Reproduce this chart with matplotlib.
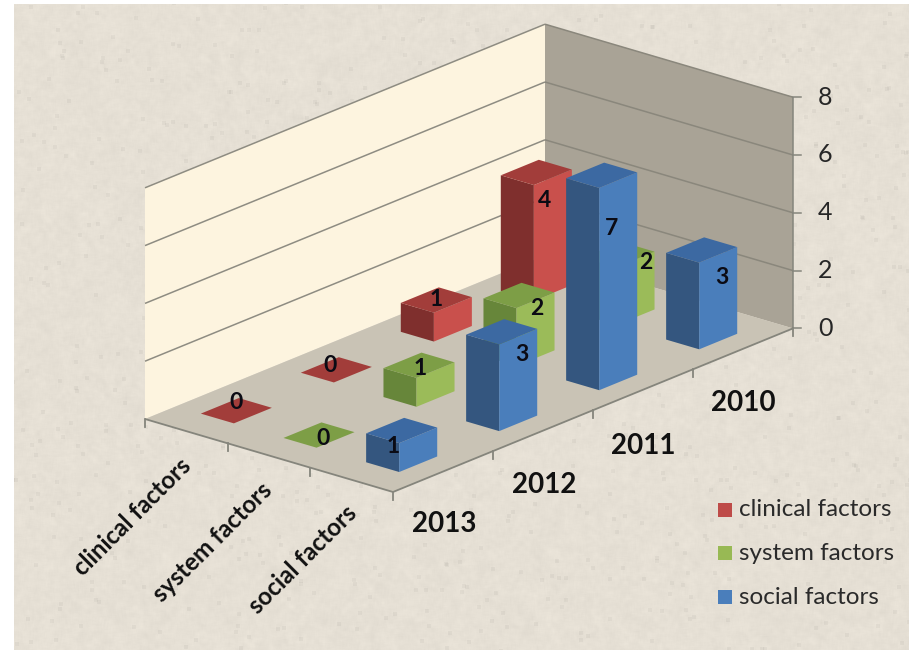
import numpy as np
import matplotlib
matplotlib.use('Agg')
import matplotlib.pyplot as plt
from matplotlib.patches import Polygon, Rectangle

plt.rcParams['font.family'] = ['Lato', 'DejaVu Sans']

# data
years = ['2013', '2012', '2011', '2010']
series_names = ['clinical factors', 'system factors', 'social factors']
clinical = [0, 0, 1, 4]
system = [0, 1, 2, 2]
social = [1, 3, 7, 3]
z_ticks = [0, 2, 4, 6, 8]

# (light side, dark side, top) for every series
series_colors = [('#C9504C', '#7F2F2D', '#A23D3A'),
                 ('#9BBB59', '#67863A', '#7D9E46'),
                 ('#4A7EBB', '#34567F', '#3C69A2')]
legend_colors = ['#BE4B48', '#98B954', '#4A7EBB']

# the data labels do not sit at a fixed place on the bars, pixel shift from top centre
label_shift = [[(0, -8), (-6, -4), (0, -1), (8, 28)],
               [(4, 3), (1, 3), (18, 13), (27, 8)],
               [(-9, 16), (20, 23), (10, 53), (20, 28)]]

W, H = 909, 650
BAR_C, BAR_Y = 0.20, 0.19


def proj(c, y, z=0):
    # oblique projection of (category, year, value) to image pixels
    return (145 + 82.67*c + 100.0*y, 419 + 24.33*c - 40.9*y - 28.9*z)


def face(ax, pts, color, zorder=2):
    ax.add_patch(Polygon([proj(*p) for p in pts], closed=True, facecolor=color,
                         edgecolor='none', zorder=zorder))


def line3(ax, a, b, color='#85857C', lw=1.1, zorder=1.5):
    pa, pb = proj(*a), proj(*b)
    ax.plot([pa[0], pb[0]], [pa[1], pb[1]], color=color, lw=lw, zorder=zorder,
            solid_capstyle='butt')


def paper_texture():
    # deterministic mottled paper, blurred hash noise, worked out on a bigger grid
    # so the blur leaves no dark rim
    pad = 30
    yy, xx = np.mgrid[0:H + 2*pad, 0:W + 2*pad]
    n = np.sin(xx*12.9898 + yy*78.233)*43758.5453
    n = n - np.floor(n)
    def blur(a, k):
        kern = np.ones(k)/k
        a = np.apply_along_axis(lambda r: np.convolve(r, kern, mode='same'), 1, a)
        return np.apply_along_axis(lambda r: np.convolve(r, kern, mode='same'), 0, a)
    fine = blur(n, 5) - 0.5
    coarse = blur(n, 15) - 0.5
    spots = blur((n > 0.9985)*1.0, 4)
    shade = 1 + 0.10*fine + 0.10*coarse - 0.6*spots
    shade = shade[pad:-pad, pad:-pad]
    base = np.array([230, 224, 213])/255.0
    img = np.clip(shade[..., None]*base, 0, 1)
    img[:, :14] = 1
    img[:4, :] = 1
    return img


fig = plt.figure(figsize=(W/100, H/100), dpi=100)
ax = fig.add_axes([0, 0, 1, 1])
ax.imshow(paper_texture(), extent=(0, W, H, 0), zorder=0, interpolation='bilinear')
ax.set_xlim(0, W)
ax.set_ylim(H, 0)
ax.axis('off')

# walls and floor
nc, ny = len(series_names), len(years)
zmax = z_ticks[-1]
face(ax, [(0, 0, 0), (0, ny, 0), (0, ny, zmax), (0, 0, zmax)], '#FDF4DF', zorder=1)
face(ax, [(0, ny, 0), (nc, ny, 0), (nc, ny, zmax), (0, ny, zmax)], '#A9A396', zorder=1)
face(ax, [(0, 0, 0), (nc, 0, 0), (nc, ny, 0), (0, ny, 0)], '#C9C3B5', zorder=1)

for z in z_ticks:
    if z > 0:
        line3(ax, (0, 0, z), (0, ny, z), color='#8E8C82')
        line3(ax, (0, ny, z), (nc, ny, z), color='#8A877C')
    px, py = proj(nc, ny, z)
    ax.plot([px, px + 8], [py, py], color='#85857C', lw=1.1, zorder=1.5)
    ax.text(px + 32, py, str(z), fontsize=18, color='#262626', ha='center', va='center')
line3(ax, (nc, ny, 0), (nc, ny, zmax), color='#85857C')
line3(ax, (0, 0, 0), (nc, 0, 0), color='#85857C', lw=1.3)
line3(ax, (nc, 0, 0), (nc, ny, 0), color='#85857C', lw=1.3)

# floor ticks
for i in range(nc + 1):
    px, py = proj(i, 0)
    ax.plot([px, px], [py, py + 8], color='#85857C', lw=1.3, zorder=1.5)
for j in range(1, ny + 1):
    px, py = proj(nc, j)
    ax.plot([px, px], [py, py + 8], color='#85857C', lw=1.3, zorder=1.5)

# bars, back to front
values = [clinical, system, social]
order = sorted(((i, j) for i in range(nc) for j in range(ny)), key=lambda t: t[0] - t[1])
for n, (i, j) in enumerate(order):
    c, y, v = i + 0.5, j + 0.5, values[i][j]
    light, dark, top = series_colors[i]
    zo = 3 + n*0.01
    c0, c1, y0, y1 = c - BAR_C, c + BAR_C, y - BAR_Y, y + BAR_Y
    face(ax, [(c0, y0, 0), (c1, y0, 0), (c1, y0, v), (c0, y0, v)], dark, zo)
    face(ax, [(c1, y0, 0), (c1, y1, 0), (c1, y1, v), (c1, y0, v)], light, zo)
    face(ax, [(c0, y0, v), (c1, y0, v), (c1, y1, v), (c0, y1, v)], top, zo)

# data labels on top of everything
for i in range(nc):
    for j in range(ny):
        px, py = proj(i + 0.5, j + 0.5, values[i][j])
        dx, dy = label_shift[i][j]
        ax.text(px + dx, py + dy, str(values[i][j]), fontsize=16.5, fontweight='bold',
                color='#0B0B14', ha='center', va='center', zorder=5)

# axis labels
year_pos = [(444, 524), (544, 485), (643, 446), (743, 403)]
for name, (px, py) in zip(years, year_pos):
    ax.text(px, py, name, fontsize=20, fontweight='bold', color='#111111',
            ha='center', va='center')
cat_pos = [(132, 517), (213, 542), (303, 560)]
for name, (px, py) in zip(series_names, cat_pos):
    ax.text(px, py, name, fontsize=17.5, fontweight='bold', color='#111111', rotation=45,
            rotation_mode='anchor', ha='center', va='center')

# legend
leg_y = [510, 553, 597]
for name, col, ly in zip(series_names, legend_colors, leg_y):
    ax.add_patch(Rectangle((718, ly - 7), 14, 14, facecolor=col, edgecolor='none', zorder=4))
    ax.text(739, ly, name, fontsize=17.5, color='#2A2A2A', ha='left', va='center', zorder=4)

fig.savefig('out.png', dpi=100)
